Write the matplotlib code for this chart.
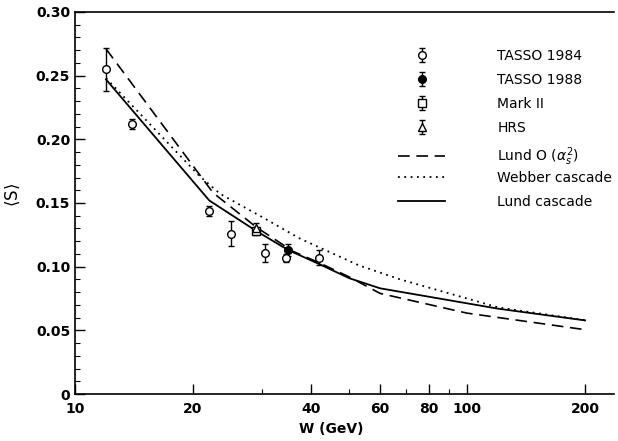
import numpy as np
import matplotlib
matplotlib.use("Agg")
import matplotlib.pyplot as plt
from matplotlib.ticker import FixedLocator, FixedFormatter, MultipleLocator, FuncFormatter

plt.rcParams['font.family'] = ['DejaVu Sans']

# measured points: W (GeV), <S>, error
tasso84_w = [12.0, 14.0, 22.0, 25.0, 30.6, 34.5, 42.0]
tasso84_s = [0.255, 0.212, 0.144, 0.126, 0.111, 0.107, 0.107]
tasso84_e = [0.017, 0.004, 0.004, 0.010, 0.007, 0.003, 0.006]

tasso88_w = [35.0]
tasso88_s = [0.113]
tasso88_e = [0.005]

mark2_w = [29.0]
mark2_s = [0.128]
mark2_e = [0.003]

hrs_w = [29.0]
hrs_s = [0.130]
hrs_e = [0.004]

# model curves
lund0_w = [12, 22.5, 29, 36, 42, 50, 60, 100, 200]
lund0_s = [0.271, 0.158, 0.131, 0.112, 0.103, 0.092, 0.079, 0.0635, 0.0505]

webber_w = [12, 20.8, 23.5, 30, 37.5, 53, 67.5, 120, 200]
webber_s = [0.248, 0.171, 0.157, 0.139, 0.122, 0.101, 0.090, 0.068, 0.058]

lundc_w = [12, 22, 29, 35, 42, 50, 60, 120, 200]
lundc_s = [0.247, 0.152, 0.128, 0.113, 0.102, 0.091, 0.083, 0.067, 0.0578]

fig = plt.figure(figsize=(6.18, 4.41), dpi=100)
ax = fig.add_axes([75/618, 47/441, (614-75)/618, (394-12)/441])

l1, = ax.plot(lund0_w, lund0_s, color='black', lw=1.2, ls=(0, (7, 4)))
l2, = ax.plot(webber_w, webber_s, color='black', lw=1.3, ls=(0, (1, 2.5)))
l3, = ax.plot(lundc_w, lundc_s, color='black', lw=1.3, ls='-')

eb_kw = dict(color='black', ecolor='black', elinewidth=1.0, capsize=2.5, capthick=1.0, ls='none', ms=5.5, mew=1.0)
h1 = ax.errorbar(tasso84_w, tasso84_s, yerr=tasso84_e, fmt='o', mfc='white', **eb_kw)
h2 = ax.errorbar(tasso88_w, tasso88_s, yerr=tasso88_e, fmt='o', mfc='black', **eb_kw)
h3 = ax.errorbar(mark2_w, mark2_s, yerr=mark2_e, fmt='s', mfc='white', **eb_kw)
h4 = ax.errorbar(hrs_w, hrs_s, yerr=hrs_e, fmt='^', mfc='white', **eb_kw)

ax.set_xscale('log')
ax.set_xlim(10, 237)
ax.set_ylim(0, 0.30)

ax.xaxis.set_major_locator(FixedLocator([10, 20, 40, 60, 80, 100, 200]))
ax.xaxis.set_major_formatter(FixedFormatter(['10', '20', '40', '60', '80', '100', '200']))
ax.xaxis.set_minor_locator(FixedLocator([30, 50, 70, 90]))
ax.xaxis.set_minor_formatter(FixedFormatter([]))

ax.yaxis.set_major_locator(MultipleLocator(0.05))
ax.yaxis.set_minor_locator(MultipleLocator(0.01))
ax.yaxis.set_major_formatter(FuncFormatter(lambda v, p: '0' if abs(v) < 1e-9 else f'{v:.2f}'))

ax.tick_params(which='major', direction='in', length=7, width=1.0, labelsize=10)
ax.tick_params(which='minor', direction='in', length=3.5, width=0.8)
ax.tick_params(axis='x', which='both', top=False, pad=6)
ax.tick_params(axis='y', which='both', right=False)
for lab in ax.get_xticklabels() + ax.get_yticklabels():
    lab.set_fontweight('bold')

ax.spines['right'].set_visible(False)
for s in ('top', 'left', 'bottom'):
    ax.spines[s].set_linewidth(1.2)

ax.set_xlabel('W (GeV)', fontsize=10, fontweight='bold')
ax.xaxis.set_label_coords(0.475, -0.072)
ax.set_ylabel(r'$\langle\mathrm{S}\rangle$', fontsize=12)
ax.yaxis.set_label_coords(-0.098, 0.52)

leg_kw = dict(loc='upper left', bbox_transform=fig.transFigure, frameon=False, fontsize=10,
              handlelength=3.4, handletextpad=3.75, labelspacing=0.72,
              borderpad=0, borderaxespad=0)
leg1 = ax.legend([h1, h2, h3, h4, l1],
                 ['TASSO 1984', 'TASSO 1988', 'Mark II', 'HRS', r'Lund O ($\alpha_s^2$)'],
                 bbox_to_anchor=(398/618, 1 - 49/441), **leg_kw)
ax.add_artist(leg1)
ax.legend([l2, l3], ['Webber cascade', 'Lund cascade'],
          bbox_to_anchor=(398/618, 1 - 170.5/441), **leg_kw)

fig.savefig('out.png', dpi=100)
